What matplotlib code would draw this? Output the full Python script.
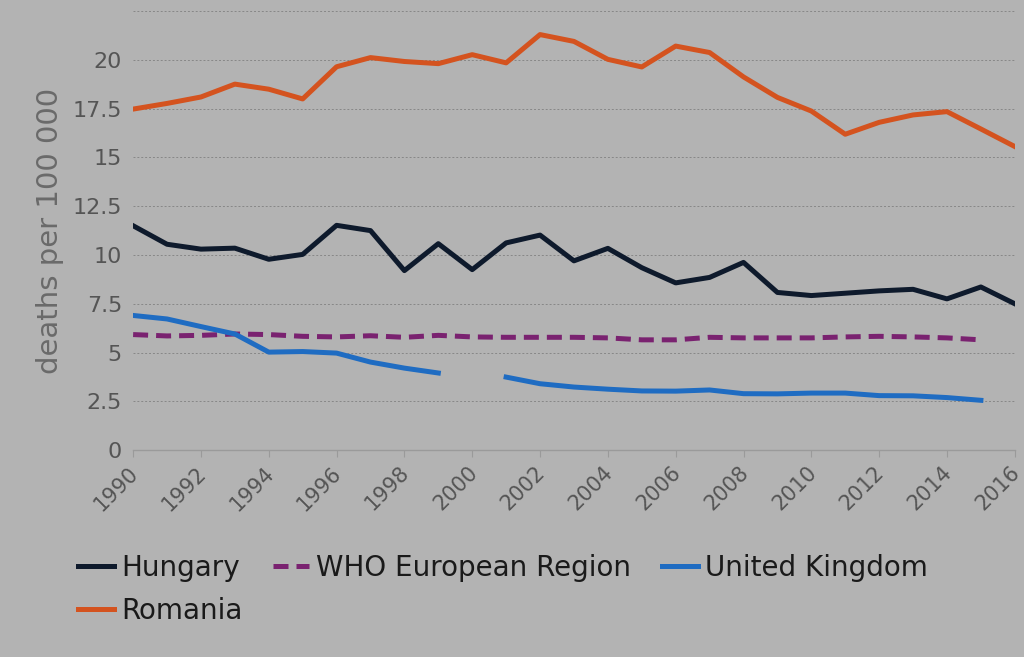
import numpy as np
import matplotlib.pyplot as plt
import matplotlib.transforms as mtransforms

years = list(range(1990, 2017))

hungary = [11.5, 10.55, 10.3, 10.35, 9.78, 10.03, 11.52, 11.25, 9.2, 10.58, 9.25, 10.62,
           11.02, 9.7, 10.34, 9.35, 8.57, 8.85, 9.62, 8.08, 7.92, 8.04, 8.16, 8.24,
           7.75, 8.36, 7.5]
romania = [17.48, 17.77, 18.1, 18.76, 18.5, 18.0, 19.65, 20.12, 19.92, 19.81, 20.27, 19.85,
           21.3, 20.95, 20.03, 19.64, 20.71, 20.38, 19.13, 18.08, 17.38, 16.19, 16.8, 17.18,
           17.35, 16.46, 15.56]
who_europe = [5.92, 5.85, 5.88, 5.95, 5.92, 5.83, 5.8, 5.86, 5.78, 5.88, 5.8, 5.78,
              5.78, 5.78, 5.75, 5.65, 5.65, 5.78, 5.75, 5.75, 5.75, 5.8, 5.83, 5.8,
              5.75, 5.65, np.nan]
uk = [6.9, 6.72, 6.33, 5.95, 5.02, 5.05, 4.97, 4.51, 4.2, 3.95, np.nan, 3.74,
      3.4, 3.23, 3.12, 3.03, 3.02, 3.08, 2.89, 2.88, 2.92, 2.92, 2.79, 2.78,
      2.69, 2.55, np.nan]

bg = '#b3b3b3'
fig = plt.figure(figsize=(10.24, 6.57), dpi=100, facecolor=bg)
ax = fig.add_axes([0.130, 0.315, 0.861, 0.668])
ax.set_facecolor(bg)

lw = 3.6
l_hu, = ax.plot(years, hungary, color='#0e1a2c', lw=lw, label='Hungary')
l_who, = ax.plot(years, who_europe, color='#7a2270', lw=lw, dashes=(3, 1.6),
                 label='WHO European Region')
l_uk, = ax.plot(years, uk, color='#1f6cc2', lw=lw, label='United Kingdom')
l_ro, = ax.plot(years, romania, color='#d4531f', lw=lw, label='Romania')

ax.set_xlim(1990, 2016)
ax.set_ylim(0, 22.5)
yt = np.arange(0, 22.6, 2.5)
ax.set_yticks(yt)
ax.set_yticklabels(['0', '2.5', '5', '7.5', '10', '12.5', '15', '17.5', '20', ''])
ax.set_xticks(range(1990, 2017, 2))
ax.set_xticklabels([str(y) for y in range(1990, 2017, 2)], rotation=45,
                   ha='right', rotation_mode='anchor')

for gy in yt[1:]:
    ax.axhline(gy, color='#878787', lw=0.7, ls=(0, (2, 2)), zorder=0)

for s in ['top', 'right', 'left']:
    ax.spines[s].set_visible(False)
ax.spines['bottom'].set_color('#9a9a9a')
ax.spines['bottom'].set_linewidth(1.0)
ax.tick_params(axis='y', length=0, pad=8, labelsize=16, labelcolor='#555555')
ax.tick_params(axis='x', length=5, color='#9a9a9a', pad=4, labelsize=15,
               labelcolor='#555555')

# nudge the rotated year labels a little to the left so 2016 stays inside
shift = mtransforms.ScaledTranslation(-5 / 100, 0, fig.dpi_scale_trans)
for lab in ax.get_xticklabels():
    lab.set_transform(lab.get_transform() + shift)

ax.set_ylabel('deaths per 100 000', fontsize=21, color='#6a6a6a', labelpad=6)

fig.legend([l_hu, l_ro, l_who, l_uk],
           ['Hungary', 'Romania', 'WHO European Region', 'United Kingdom'],
           ncol=3, loc='upper left', bbox_to_anchor=(0.052, 0.195), frameon=False,
           fontsize=20, handlelength=1.3, handletextpad=0.25, columnspacing=1.1,
           labelspacing=0.55, labelcolor='#1a1a1a')

fig.savefig('out.png', dpi=100, facecolor=bg)
